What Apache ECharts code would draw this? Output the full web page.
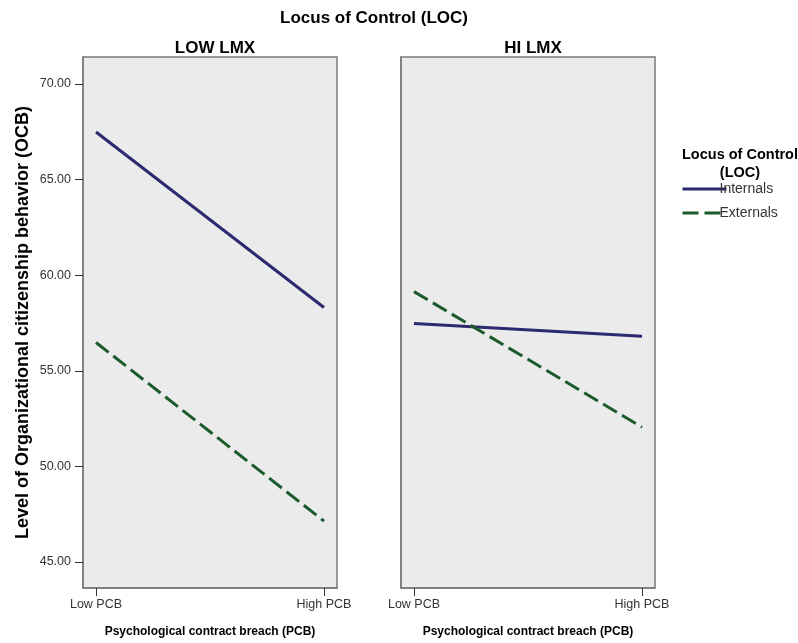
<!DOCTYPE html>
<html><head><meta charset="utf-8">
<script src="https://cdn.jsdelivr.net/npm/echarts@6/dist/echarts.min.js"></script>
<style>html,body{margin:0;padding:0;background:#fff}#c{width:798px;height:643px}</style>
</head><body><div id="c"></div>
<script>
var xCats = ['Low PCB', 'High PCB'];
var yTicks = [45, 50, 55, 60, 65, 70];
var panels = ['LOW LMX', 'HI LMX'];
var internalsLow = [67.49, 58.31];
var externalsLow = [56.48, 47.14];
var internalsHi = [57.47, 56.80];
var externalsHi = [59.14, 52.05];

var FONT = 'Arial, "Liberation Sans", sans-serif';
var cInt = '#2b2a70';
var cExt = '#1b5a2c';
var yMin = 43.64, yMax = 71.41;

function xAxis(i) {
  return {
    type: 'value', gridIndex: i, min: -0.057, max: 1.057,
    axisLine: {show: true, onZero: false, lineStyle: {color: '#7a7a7a', width: 1.5}}, splitLine: {show: false},
    axisTick: {show: true, inside: false, customValues: [0, 1], length: 8, lineStyle: {color: '#333', width: 1}},
    axisLabel: {customValues: [0, 1], formatter: function (v) { return xCats[Math.round(v)]; },
      color: '#333', fontFamily: FONT, fontSize: 12.5, margin: 10},
    name: 'Psychological contract breach (PCB)', nameLocation: 'middle', nameGap: 38,
    nameTextStyle: {fontFamily: FONT, fontSize: 12, fontWeight: 'bold', color: '#000'}
  };
}
function yAxis(i) {
  var o = {
    type: 'value', gridIndex: i, min: yMin, max: yMax,
    axisLine: {show: true, onZero: false, lineStyle: {color: '#7a7a7a', width: 1.5}}, splitLine: {show: false},
    axisTick: {show: i === 0, inside: false, customValues: yTicks, length: 8, lineStyle: {color: '#333', width: 1}},
    axisLabel: {show: i === 0, customValues: yTicks, formatter: function (v) { return v.toFixed(2); },
      color: '#333', fontFamily: FONT, fontSize: 12.5, margin: 12}
  };
  if (i === 0) {
    o.name = 'Level of Organizational citizenship behavior (OCB)';
    o.nameLocation = 'middle'; o.nameGap = 51;
    o.nameTextStyle = {fontFamily: FONT, fontSize: 18, fontWeight: 'bold', color: '#000'};
  }
  return o;
}
function pts(arr) { return arr.map(function (v, k) { return [k, v]; }); }
function line(name, data, i, color, dashed) {
  return {
    name: name, type: 'line', xAxisIndex: i, yAxisIndex: i, data: pts(data),
    symbol: 'none', showSymbol: false, silent: true, animation: false,
    lineStyle: {color: color, width: 3, type: dashed ? [16, 6] : 'solid'},
    itemStyle: {color: color}
  };
}

var chart = echarts.init(document.getElementById('c'), null, {renderer: 'canvas'});
chart.setOption({
  backgroundColor: '#fff',
  animation: false,
  title: [
    {text: 'Locus of Control (LOC)', left: 369, top: 5, textAlign: 'center',
      textStyle: {fontFamily: FONT, fontSize: 17, fontWeight: 'bold', color: '#000'}},
    {text: panels[0], left: 210, top: 35, textAlign: 'center',
      textStyle: {fontFamily: FONT, fontSize: 17, fontWeight: 'bold', color: '#000'}},
    {text: panels[1], left: 528, top: 35, textAlign: 'center',
      textStyle: {fontFamily: FONT, fontSize: 17, fontWeight: 'bold', color: '#000'}},
    {text: 'Locus of Control\n(LOC)', left: 735, top: 141, textAlign: 'center',
      textStyle: {fontFamily: FONT, fontSize: 14.5, fontWeight: 'bold', color: '#000', lineHeight: 18}}
  ],
  legend: {
    orient: 'vertical', left: 676, top: 177, itemWidth: 44, itemHeight: 12, itemGap: 10,
    data: ['Internals', 'Externals'],
    itemStyle: {opacity: 0},
    lineStyle: {width: 3},
    textStyle: {fontFamily: FONT, fontSize: 14, color: '#333', padding: [0, 0, 0, -12]},
    selectedMode: false
  },
  grid: [
    {left: 83, top: 57, width: 254, height: 532, show: true, backgroundColor: '#ebebeb',
      borderColor: '#7a7a7a', borderWidth: 1.5},
    {left: 401, top: 57, width: 254, height: 532, show: true, backgroundColor: '#ebebeb',
      borderColor: '#7a7a7a', borderWidth: 1.5}
  ],
  xAxis: [xAxis(0), xAxis(1)],
  yAxis: [yAxis(0), yAxis(1)],
  series: [
    line('Internals', internalsLow, 0, cInt, false),
    line('Externals', externalsLow, 0, cExt, true),
    line('Internals', internalsHi, 1, cInt, false),
    line('Externals', externalsHi, 1, cExt, true)
  ]
});
</script></body></html>
